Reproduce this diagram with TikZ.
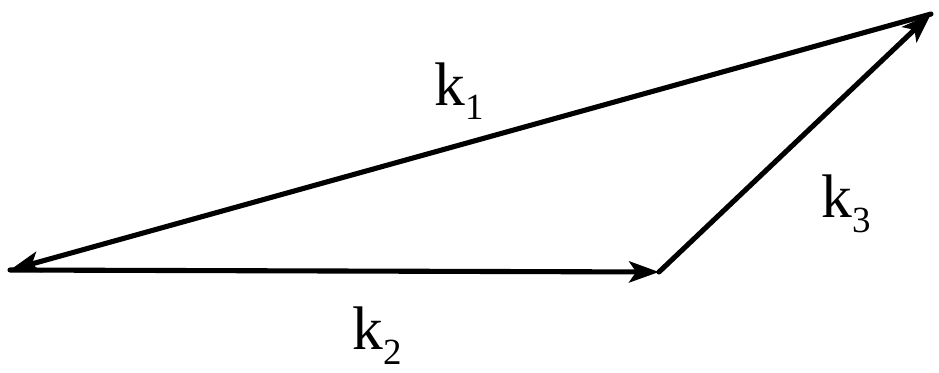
\documentclass[tikz,border=0pt]{standalone}
\usepackage{fontspec}
\setmainfont{Liberation Serif}
\usetikzlibrary{arrows.meta}
\tikzset{
  vedge/.style  ={line width=2.9pt,line cap=round,-{Stealth[length=17pt,width=12pt,inset=4pt]}},
  klab/.style   ={inner sep=0pt,anchor=base west,font=\fontsize{35}{40}\selectfont},
}
\newcommand{\kvec}[1]{k\raisebox{-0.30cm}{\fontsize{21}{24}\selectfont #1}}

\begin{document}
\begin{tikzpicture}[x=0.02cm,y=-0.02cm]
      \useasboundingbox (0,0) rectangle (939,372);
      \coordinate (vl) at (10,270);
      \coordinate (vm) at (659,272);
      \coordinate (vr) at (931,14);
      \draw[vedge] (vr) -- (vl);
      \draw[vedge] (vl) -- (vm);
      \draw[vedge] (vm) -- (vr);
      \node[klab] (kone) at (434,105) {\kvec{1}};
      \node[klab] (ktwo) at (352,349) {\kvec{2}};
      \node[klab] (kthree) at (821,217) {\kvec{3}};
    \end{tikzpicture}
\end{document}
